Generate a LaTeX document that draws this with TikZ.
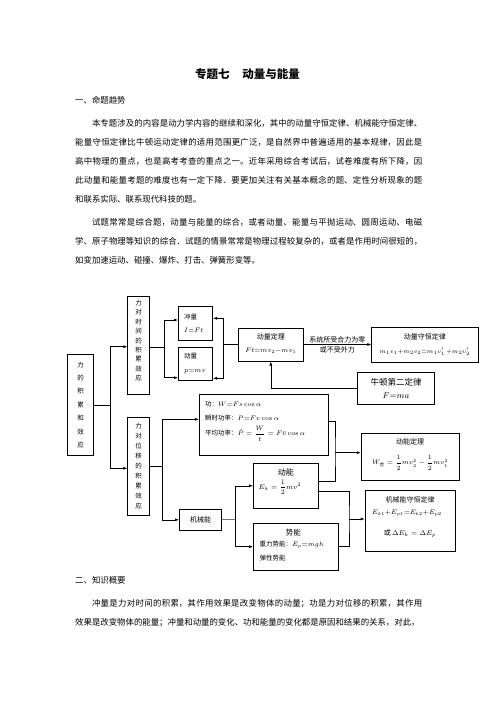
\RequirePackage{fix-cm}
\documentclass[tikz,border=0pt]{standalone}
\usepackage{amsmath}
\usepackage[no-math]{fontspec}
\setmainfont{Noto Sans CJK SC}
\usetikzlibrary{arrows.meta,calc}
\XeTeXlinebreaklocale "zh"
\XeTeXlinebreakskip=0pt plus 1pt
\newcommand{\fsz}[2]{\fontsize{#1}{#2}\selectfont}

\begin{document}
\begin{tikzpicture}[x=1pt, y=-1pt,
    box/.style={draw, line width=0.6pt, inner sep=0pt},
    link/.style={line width=0.6pt},
    arr/.style={link, -{Latex[length=4pt,width=3pt]}},
    para/.style={anchor=north west, inner sep=0pt, text width=347pt,
      align=justify, font=\fsz{8.4}{19}},
    vtext/.style={inner sep=0pt, align=center}]

    % Page
    \fill[white] (0,0) rectangle (496,702);
    \useasboundingbox (0,0) rectangle (496,702);

    % Title and opening text
    \node[font=\fsz{11.5}{12}\bfseries] (title) at (247.5,74)
      {专题七\hspace{1.1em}动量与能量};
    \node[anchor=west, inner sep=0pt, font=\fsz{8.4}{10}] (secone) at (75,100)
      {一、命题趋势};
    \node[para] (trend) at (75,119) {\hspace*{2em}本专题涉及的内容是动力学内容的继续和深化，其中的动量守恒定律、机械能守恒定律、\linebreak
能量守恒定律比牛顿运动定律的适用范围更广泛，是自然界中普遍适用的基本规律，因此是\linebreak
高中物理的重点，也是高考考查的重点之一。近年采用综合考试后，试卷难度有所下降，因\linebreak
此动量和能量考题的难度也有一定下降．要更加关注有关基本概念的题、定性分析现象的题\linebreak
和联系实际、联系现代科技的题。};
    \node[para] (style) at (75,218) {\hspace*{2em}试题常常是综合题，动量与能量的综合，或者动量、能量与平抛运动、圆周运动、电磁\linebreak
学、原子物理等知识的综合．试题的情景常常是物理过程较复杂的，或者是作用时间很短的，\linebreak
如变加速运动、碰撞、爆炸、打击、弹簧形变等。};

    % Left column
    \node[box, vtext, minimum width=26.4pt, minimum height=101pt,
      font=\fsz{6.5}{13.4}] (accum) at (80.5,404.8)
      {力\\的\\积\\累\\和\\效\\应};
    \node[box, minimum width=21.6pt, minimum height=98.3pt] (timebox) at (138.5,345.2) {};
    \node[vtext, font=\fsz{6.5}{9.4}] (timetxt) at (138.5,340.7)
      {力\\对\\时\\间\\的\\积\\累\\效\\应};
    \node[box, vtext, minimum width=21.6pt, minimum height=98pt,
      font=\fsz{6.5}{10}] (dispbox) at (138.5,466.3)
      {力\\对\\位\\移\\的\\积\\累\\效\\应};

    % Momentum branch
    \node[box, minimum width=34.4pt, minimum height=34.7pt] (impulse) at (195.5,323.3) {};
    \node[anchor=west, align=left, inner sep=0pt, font=\fsz{6.5}{13.3}] (impulsetxt)
      at (184,323.3) {冲量\\$I{=}Ft$};
    \node[box, minimum width=34.4pt, minimum height=33.4pt] (momentum) at (195.5,364) {};
    \node[anchor=west, align=left, inner sep=0pt, font=\fsz{6.5}{14}] (momentumtxt)
      at (184,363) {动量\\$p{=}mv$};
    \node[box, minimum width=65pt, minimum height=33.4pt] (theorem) at (270.8,344.5) {};
    \node[font=\fsz{7}{8}] (theoremhead) at (270.8,336.7) {动量定理};
    \node[anchor=west, font=\fsz{6.5}{8}, inner sep=0pt] (theoremeq) at (245,350.7)
      {$Ft{=}mv_2{-}mv_1$};
    \node[box, minimum width=106.3pt, minimum height=34.6pt] (conserv) at (424.8,344.5) {};
    \node[font=\fsz{7}{8}] (conservhead) at (424.8,336.7) {动量守恒定律};
    \node[font=\fsz{6}{7}] (conserveq) at (424.8,351.7)
      {$m_1v_1{+}m_2v_2{=}m_1v_1'\,{+}m_2v_2'$};
    \node[box, align=center, minimum width=76.6pt, minimum height=31.5pt,
      font=\fsz{8.5}{13.3}] (newton) at (396,388.2) {牛顿第二定律\\$F{=}ma$};

    % Energy branch
    \node[box, minimum width=128.7pt, minimum height=61pt] (work) at (263.6,424.5) {};
    \node[anchor=north west, align=left, inner sep=0pt, font=\fsz{6.5}{14.6}] (worktxt)
      at (205,400.8) {功：$W{=}Fs\cos\alpha$\\
      瞬时功率：$P{=}Fv\cos\alpha$\\
      平均功率：$\bar{P}=\dfrac{W}{t}=F\bar{v}\cos\alpha$};
    \node[box, minimum width=42.4pt, minimum height=20.5pt, font=\fsz{7}{8}]
      (mech) at (200.5,519.8) {机械能};
    \node[box, minimum width=65pt, minimum height=45pt] (kinetic) at (285.8,485.8) {};
    \node[font=\fsz{8}{9}] (kinetichead) at (285.8,472.2) {动能};
    \node[font=\fsz{7}{8}] (kineticeq) at (280,487) {$E_k=\dfrac{1}{2}mv^2$};
    \node[box, minimum width=85pt, minimum height=46.7pt] (potential) at (295.8,546.7) {};
    \node[font=\fsz{7.5}{8}] (potentialhead) at (293.3,532.3) {势能};
    \node[anchor=west, inner sep=0pt, font=\fsz{6.5}{8}] (gravity) at (259.3,545)
      {重力势能：$E_p{=}mgh$};
    \node[anchor=west, inner sep=0pt, font=\fsz{6.5}{8}] (elastic) at (259.3,558.3)
      {弹性势能};
    \node[box, minimum width=98.3pt, minimum height=46.7pt] (ketheo) at (410.2,456.7) {};
    \node[font=\fsz{7}{8}] (ketheohead) at (410.2,441.5) {动能定理};
    \node[font=\fsz{6.5}{8}] (ketheoeq) at (410.2,463)
      {$W_{\text{合}}=\dfrac{1}{2}mv_2^2-\dfrac{1}{2}mv_1^2$};
    \node[box, minimum width=90pt, minimum height=61.7pt] (mechcons) at (410,520.8) {};
    \node[font=\fsz{7}{8}] (mechconshead) at (410,500) {机械能守恒定律};
    \node[anchor=west, inner sep=0pt, font=\fsz{6.5}{8}] (mechconseq) at (371.7,513.3)
      {$E_{k1}{+}E_{p1}{=}E_{k2}{+}E_{p2}$};
    \node[font=\fsz{7}{8}] (mechconsalt) at (410,533.3) {或\,$\Delta E_k=\Delta E_p$};

    % Connectors: left column
    \coordinate (jA) at (110,404.8);
    \draw[link] (accum.east) -- (jA);
    \draw[arr] (jA) |- ($(timebox.west)+(0,1.5)$);
    \draw[arr] (jA) |- ($(dispbox.west)+(0,2)$);

    % Connectors: momentum
    \coordinate (jB) at (164.3,347);
    \draw[link] (timebox.east |- jB) -- (jB);
    \draw[arr] (jB) |- ($(impulse.west)+(0,-3.3)$);
    \draw[arr] (jB) |- ($(momentum.west)+(0,13.7)$);
    \coordinate (jC) at (223.3,344.5);
    \draw[link] (theorem.west) -- (jC);
    \draw[arr] (jC) |- ($(impulse.east)+(0,-5)$);
    \draw[arr] (jC) |- ($(momentum.east)+(0,14.3)$);
    \draw[arr] (theorem.east) -- (conserv.west)
      node[midway, above, inner sep=1.5pt, font=\fsz{7}{8}] (condone) {系统所受合力为零}
      node[midway, below, inner sep=2pt, font=\fsz{7}{8}] (condtwo) {或不受外力};
    \draw[arr] (newton.west) -| (theorem.south);

    % Connectors: energy
    \coordinate (jD) at (162.7,466.7);
    \draw[link] (dispbox.east |- jD) -- (jD);
    \draw[arr] (jD) |- ($(work.west)+(0,-5.2)$);
    \draw[arr] (jD) |- (mech.west);
    \coordinate (jE) at (235,519.8);
    \draw[link, black!55, line width=1.1pt] (mech.east) -- (jE);
    \draw[arr] (jE) |- (kinetic.west);
    \draw[arr] (jE) |- (potential.west);
    \coordinate (jF) at (335,452.7);
    \draw[link] ($(work.east)+(0,-2.8)$) -| (jF) |- ($(kinetic.east)+(0,-5)$);
    \draw[arr] (jF) -- (jF -| ketheo.west);
    \coordinate (jG) at (349,519);
    \draw[link] ($(kinetic.east)+(0,5.9)$) -| (jG) |- (potential.east);
    \draw[arr] (jG) -- (jG -| mechcons.west);

    % Second section
    \node[anchor=west, inner sep=0pt, font=\fsz{8.4}{10}] (sectwo) at (75,580)
      {二、知识概要};
    \node[para] (outline) at (75,599.5) {\hspace*{2em}冲量是力对时间的积累，其作用效果是改变物体的动量；功是力对位移的积累，其作用\linebreak
效果是改变物体的能量；冲量和动量的变化、功和能量的变化都是原因和结果的关系，对此，};

\end{tikzpicture}
\end{document}
